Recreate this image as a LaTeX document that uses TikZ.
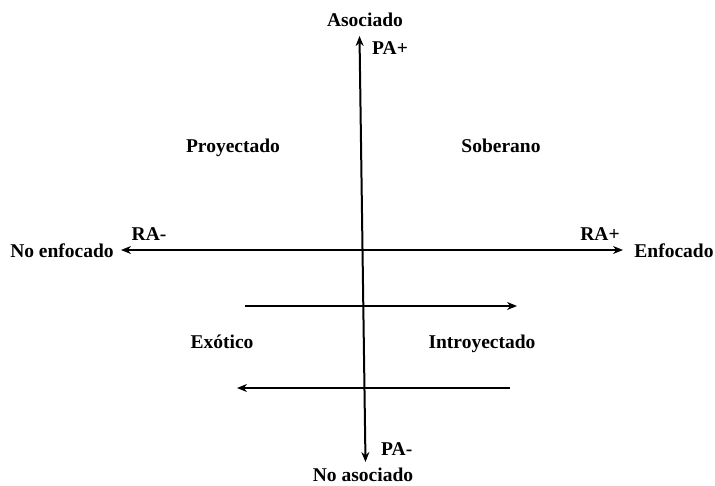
\documentclass[tikz,border=0pt]{standalone}
\usepackage{fontspec}
\setmainfont{Liberation Serif}
\usetikzlibrary{arrows.meta}
\begin{document}
\begin{tikzpicture}[x=1pt,y=-1pt,
  lbl/.style={font=\bfseries\fontsize{19.5}{22}\selectfont, inner sep=0pt, anchor=base},
  ax/.style={line width=2pt, -{Stealth[length=10pt,width=8pt]}},
  bax/.style={line width=2pt, {Stealth[length=10pt,width=8pt]}-{Stealth[length=10pt,width=8pt]}}]
\useasboundingbox (0,0) rectangle (715,485);
% endpoints
\coordinate (vtop) at (359.5,36);
\coordinate (vbot) at (365.5,462);
\coordinate (hl) at (121,250);
\coordinate (hr) at (623,250);
\coordinate (u1) at (245,306);
\coordinate (u2) at (517,306);
\coordinate (d1) at (510,388);
\coordinate (d2) at (237,388);
\draw[bax] (vbot) -- (vtop);
\draw[bax] (hl) -- (hr);
\draw[ax] (u1) -- (u2);
\draw[ax] (d1) -- (d2);
% labels
\node[lbl] (asoc) at (365,26.5) {Asociado};
\node[lbl, anchor=base west] (pap) at (372,54.5) {PA+};
\node[lbl] (proy) at (233,152.5) {Proyectado};
\node[lbl] (sob) at (501,152.5) {Soberano};
\node[lbl] (ram) at (149,240) {RA-};
\node[lbl] (noenf) at (62,257) {No enfocado};
\node[lbl] (rap) at (600,240) {RA+};
\node[lbl] (enf) at (674,257) {Enfocado};
\node[lbl] (exo) at (222,348) {Exótico};
\node[lbl] (intro) at (482,348) {Introyectado};
\node[lbl, anchor=base west] (pam) at (381,455) {PA-};
\node[lbl] (noasoc) at (363,481) {No asociado};
\end{tikzpicture}
\end{document}
